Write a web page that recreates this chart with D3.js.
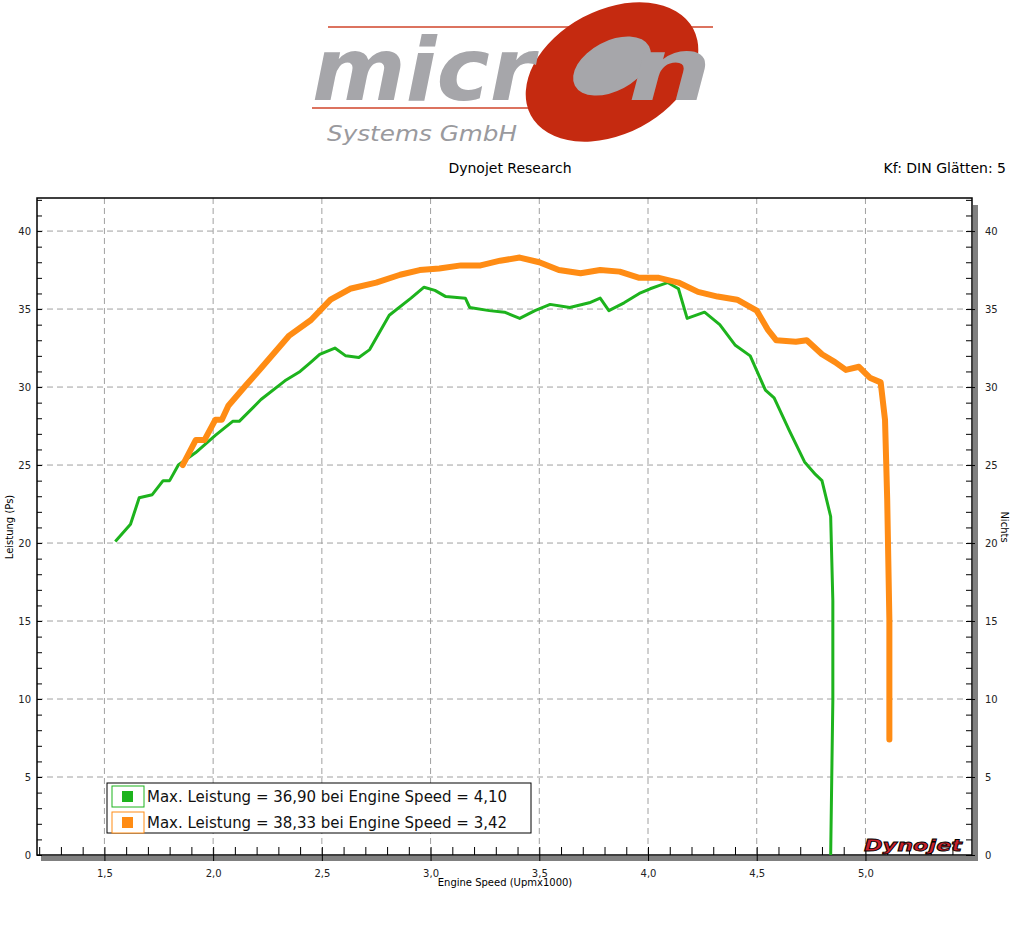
<!DOCTYPE html>
<html><head><meta charset="utf-8">
<script src="https://cdn.jsdelivr.net/npm/d3@7"></script>
<style>body{margin:0;background:#fff}svg text{font-family:"DejaVu Sans",Verdana,sans-serif}</style>
</head><body>
<svg id="chart" width="1024" height="944"></svg>
<script>
var greenRpm = [1.55,1.62,1.66,1.72,1.77,1.80,1.84,1.92,2.01,2.09,2.12,2.22,2.33,2.40,2.45,2.49,2.56,2.61,2.67,2.72,2.81,2.91,2.97,3.02,3.07,3.16,3.18,3.27,3.34,3.41,3.48,3.55,3.64,3.73,3.78,3.82,3.89,3.96,4.01,4.05,4.09,4.14,4.18,4.26,4.33,4.40,4.47,4.54,4.58,4.65,4.72,4.77,4.80,4.84,4.85,4.85,4.84];
var greenPs = [20.1,21.2,22.9,23.1,24.0,24.0,25.0,25.8,26.9,27.8,27.8,29.2,30.4,31.0,31.6,32.1,32.5,32.0,31.9,32.4,34.6,35.7,36.4,36.2,35.8,35.7,35.1,34.9,34.8,34.4,34.9,35.3,35.1,35.4,35.7,34.9,35.4,36.0,36.3,36.5,36.7,36.3,34.4,34.8,34.0,32.7,32.0,29.8,29.3,27.2,25.2,24.4,24.0,21.7,16.3,9.9,0];
var orangeRpm = [1.86,1.92,1.96,2.01,2.04,2.07,2.15,2.22,2.35,2.45,2.54,2.63,2.75,2.86,2.95,3.04,3.14,3.23,3.32,3.41,3.50,3.59,3.69,3.78,3.87,3.96,4.05,4.14,4.23,4.32,4.41,4.50,4.55,4.59,4.68,4.73,4.80,4.86,4.91,4.97,5.02,5.07,5.09,5.10,5.11,5.11];
var orangePs = [25.0,26.6,26.6,27.9,27.9,28.8,30.1,31.2,33.3,34.3,35.6,36.3,36.7,37.2,37.5,37.6,37.8,37.8,38.1,38.3,38.0,37.5,37.3,37.5,37.4,37.0,37.0,36.7,36.1,35.8,35.6,34.9,33.7,33.0,32.9,33.0,32.1,31.6,31.1,31.3,30.6,30.3,27.9,22.8,15.1,7.4];
var xTicks = [1.5,2.0,2.5,3.0,3.5,4.0,4.5,5.0];
var yTicks = [0,5,10,15,20,25,30,35,40];
var legendLabels = ["Max. Leistung = 36,90 bei Engine Speed = 4,10","Max. Leistung = 38,33 bei Engine Speed = 3,42"];
var colors = ["#1db31d","#ff8c14"];

var svg = d3.select("#chart");
var L = 37, R = 972, T = 198, B = 855;
var x = d3.scaleLinear().domain([1.19, 5.49]).range([L, R]);
var y = d3.scaleLinear().domain([0, 42.12]).range([B, T]);
var comma = function (d) { return d3.format(".1f")(d).replace(".", ","); };

// logo
var logo = svg.append("g");
logo.append("line").attr("x1", 328).attr("x2", 713).attr("y1", 27).attr("y2", 27).attr("stroke", "#d0452a").attr("stroke-width", 1.5);
logo.append("line").attr("x1", 312).attr("x2", 656).attr("y1", 108).attr("y2", 108).attr("stroke", "#d0452a").attr("stroke-width", 1.5);
logo.append("ellipse").attr("cx", 612).attr("cy", 72).attr("rx", 92).attr("ry", 62)
    .attr("transform", "rotate(-28,612,72)").attr("fill", "#c52a10");
logo.append("ellipse").attr("cx", 612).attr("cy", 66).attr("rx", 42).attr("ry", 25)
    .attr("transform", "rotate(-28,612,66)").attr("fill", "#a6a6aa");
logo.append("text").attr("x", 312).attr("y", 100).attr("font-size", 88).attr("font-weight", "bold")
    .attr("font-style", "italic").attr("fill", "#a6a6aa").attr("textLength", 222).attr("lengthAdjust", "spacingAndGlyphs").text("micr");
logo.append("text").attr("x", 628).attr("y", 100).attr("font-size", 88).attr("font-weight", "bold")
    .attr("font-style", "italic").attr("fill", "#a6a6aa").attr("textLength", 84).attr("lengthAdjust", "spacingAndGlyphs").text("n");
logo.append("text").attr("x", 327).attr("y", 141).attr("font-size", 21).attr("font-style", "italic")
    .attr("fill", "#9a9a9e").attr("textLength", 190).attr("lengthAdjust", "spacingAndGlyphs").text("Systems GmbH");

svg.append("text").attr("x", 510).attr("y", 173).attr("text-anchor", "middle").attr("font-size", 14).text("Dynojet Research");
svg.append("text").attr("x", 1006).attr("y", 173).attr("text-anchor", "end").attr("font-size", 14).text("Kf: DIN Glätten: 5");

// shadows
svg.append("rect").attr("x", 41).attr("y", B + 1).attr("width", R - 41 + 4).attr("height", 5).attr("fill", "#808080");
svg.append("rect").attr("x", R + 1).attr("y", 205).attr("width", 5).attr("height", B - 205 + 6).attr("fill", "#808080");

// grid
var grid = svg.append("g").attr("stroke", "#a0a0a0").attr("stroke-dasharray", "6,4");
grid.selectAll(".gx").data(xTicks).enter().append("line")
    .attr("x1", function (d) { return x(d); }).attr("x2", function (d) { return x(d); }).attr("y1", T).attr("y2", B);
grid.selectAll(".gy").data(yTicks.slice(1)).enter().append("line")
    .attr("y1", function (d) { return y(d); }).attr("y2", function (d) { return y(d); }).attr("x1", L).attr("x2", R);

svg.append("rect").attr("x", L).attr("y", T).attr("width", R - L).attr("height", B - T)
    .attr("fill", "none").attr("stroke", "#000").attr("stroke-width", 1.5);

// axes
var xa = svg.append("g").attr("transform", "translate(0," + B + ")")
    .call(d3.axisTop(x).tickValues(d3.range(12, 55).map(function (d) { return d / 10; })).tickSize(8).tickFormat(""));
var xb = svg.append("g").attr("transform", "translate(0," + B + ")")
    .call(d3.axisBottom(x).tickValues(xTicks).tickSize(6).tickFormat(comma));
var yl = svg.append("g").attr("transform", "translate(" + L + ",0)")
    .call(d3.axisRight(y).tickValues(d3.range(0, 43)).tickSize(5).tickFormat(""));
var yl2 = svg.append("g").attr("transform", "translate(" + L + ",0)")
    .call(d3.axisLeft(y).tickValues(yTicks).tickSize(0).tickPadding(6));
var yr = svg.append("g").attr("transform", "translate(" + R + ",0)")
    .call(d3.axisLeft(y).tickValues(d3.range(0, 43)).tickSize(6).tickFormat(""));
var yr2 = svg.append("g").attr("transform", "translate(" + R + ",0)")
    .call(d3.axisRight(y).tickValues(yTicks).tickSize(3).tickPadding(10));
[xa, xb, yl, yl2, yr, yr2].forEach(function (g) {
    g.select(".domain").remove();
    g.selectAll("line").attr("stroke", "#000");
    g.selectAll("text").attr("font-size", 10).attr("fill", "#222").attr("font-family", "DejaVu Sans");
});
xb.selectAll("text").attr("dy", "1.3em");

svg.append("text").attr("x", 505).attr("y", 886).attr("text-anchor", "middle").attr("font-size", 10).text("Engine Speed (Upmx1000)");
svg.append("text").attr("transform", "translate(13,527) rotate(-90)").attr("text-anchor", "middle").attr("font-size", 10).text("Leistung (Ps)");
svg.append("text").attr("transform", "translate(1001,527) rotate(90)").attr("text-anchor", "middle").attr("font-size", 10).text("Nichts");

// curves
var line = d3.line().x(function (d) { return x(d[0]); }).y(function (d) { return y(d[1]); });
svg.append("path").datum(d3.zip(greenRpm, greenPs)).attr("d", line).attr("fill", "none")
    .attr("stroke", colors[0]).attr("stroke-width", 3).attr("stroke-linejoin", "round");
svg.append("path").datum(d3.zip(orangeRpm, orangePs)).attr("d", line).attr("fill", "none")
    .attr("stroke", colors[1]).attr("stroke-width", 6).attr("stroke-linejoin", "round").attr("stroke-linecap", "round");

// legend
var lg = svg.append("g");
lg.append("rect").attr("x", 107).attr("y", 783).attr("width", 424).attr("height", 50).attr("fill", "#fff").attr("stroke", "#000");
legendLabels.forEach(function (t, i) {
    var yy = 786 + i * 26;
    lg.append("rect").attr("x", 112).attr("y", yy).attr("width", 32).attr("height", 21).attr("fill", "#fff").attr("stroke", colors[i]);
    lg.append("rect").attr("x", 122).attr("y", yy + 5).attr("width", 11).attr("height", 11).attr("fill", colors[i]);
    lg.append("text").attr("x", 147).attr("y", yy + 16).attr("font-size", 16).attr("font-family", "Roboto").attr("fill", "#111")
        .attr("textLength", 360).attr("lengthAdjust", "spacingAndGlyphs").text(t);
});

// dynojet mark
svg.append("text").attr("x", 864).attr("y", 851).attr("font-size", 16).attr("font-weight", "bold").attr("font-style", "italic")
    .attr("fill", "#c8202a").attr("stroke", "#000").attr("stroke-width", 0.8).attr("textLength", 98).attr("lengthAdjust", "spacingAndGlyphs").text("Dynojet");
</script>
</body></html>
